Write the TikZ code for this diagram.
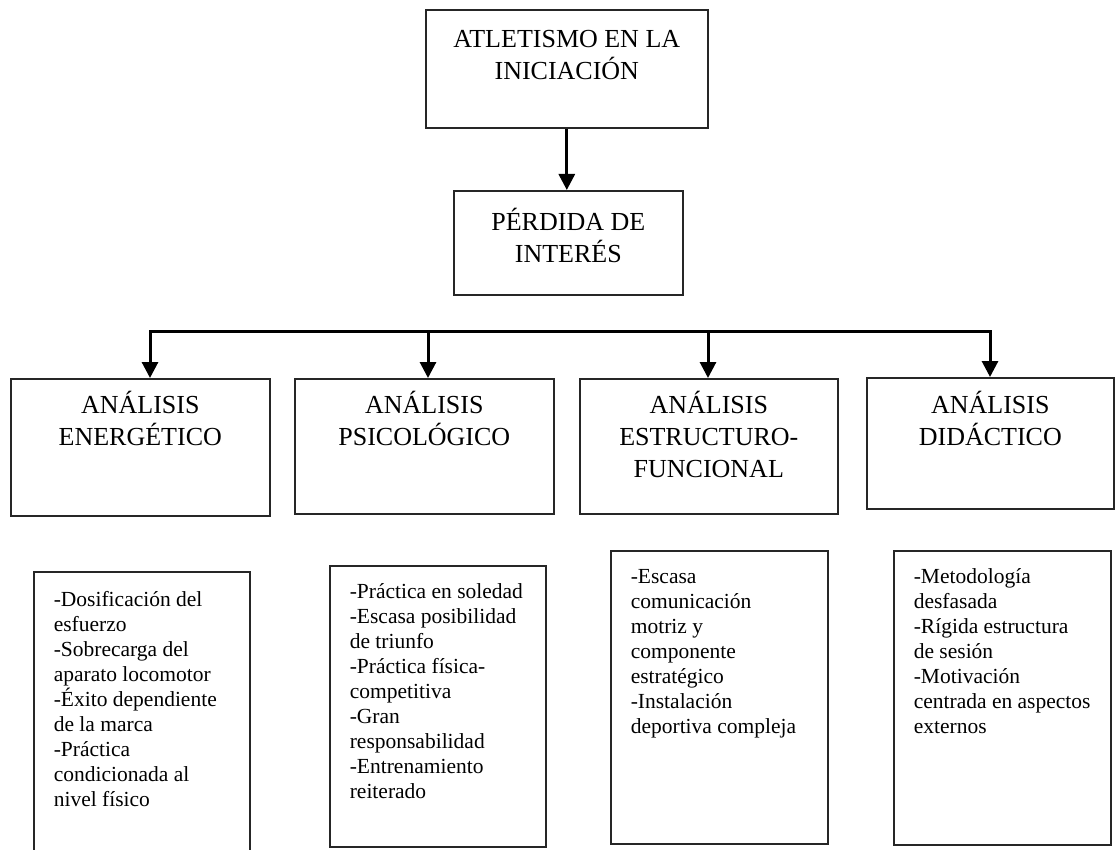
\documentclass[tikz,border=0pt]{standalone}
\usepackage{fontspec}
\setmainfont{Liberation Serif}
\usetikzlibrary{arrows.meta}
\newcommand\headtxt[4]{\parbox[t][#2pt][t]{#1pt}{\centering\fontsize{26}{32}\selectfont\rule{0pt}{#3pt}\ignorespaces#4\par}}
\newcommand\bodytxt[4]{\parbox[t][#2pt][t]{#1pt}{\raggedright\leftskip=20pt\fontsize{21.5}{25}\selectfont\rule{0pt}{#3pt}\ignorespaces#4\par}}
\begin{document}
\begin{tikzpicture}[x=1pt,y=-1pt,
  bx/.style={draw=black!85, line width=1.6pt, inner sep=0pt, anchor=north west, fill=white},
  arr/.style={line width=3pt, -{Triangle[length=16pt,width=16pt]}},
  bar/.style={line width=3pt, line cap=rect}]
\useasboundingbox (0,0) rectangle (1115,850);
\fill[white] (0,0) rectangle (1115,850);

\node[bx] (top) at (425,9) {\headtxt{282}{118}{38}{ATLETISMO EN LA\\INICIACIÓN}};
\node[bx] (perd) at (453,190) {\headtxt{229}{104}{40}{PÉRDIDA DE\\INTERÉS}};

\node[bx] (e1) at (10,378) {\headtxt{259}{137}{35}{ANÁLISIS\\ENERGÉTICO}};
\node[bx] (e2) at (294,378) {\headtxt{259}{135}{35}{ANÁLISIS\\PSICOLÓGICO}};
\node[bx] (e3) at (579,378) {\headtxt{258}{135}{35}{ANÁLISIS\\ESTRUCTURO-\\FUNCIONAL}};
\node[bx] (e4) at (866,377) {\headtxt{247}{131}{36}{ANÁLISIS\\DIDÁCTICO}};

\node[bx] (d1) at (33,571) {\bodytxt{216}{290}{35}{-Dosificación del\\esfuerzo\\-Sobrecarga del\\aparato locomotor\\-Éxito dependiente\\de la marca\\-Práctica\\condicionada al\\nivel físico}};
\node[bx] (d2) at (329,565) {\bodytxt{216}{281}{33}{-Práctica en soledad\\-Escasa posibilidad\\de triunfo\\-Práctica física-\\competitiva\\-Gran\\responsabilidad\\-Entrenamiento\\reiterado}};
\node[bx] (d3) at (610,550) {\bodytxt{217}{293}{33}{-Escasa\\comunicación\\motriz y\\componente\\estratégico\\-Instalación\\deportiva compleja}};
\node[bx] (d4) at (893,550) {\bodytxt{217}{294}{33}{-Metodología\\desfasada\\-Rígida estructura\\de sesión\\-Motivación\\centrada en aspectos\\externos}};

\draw[arr] (top.south) -- (top.south |- perd.north);

\coordinate (b1) at (150,331);
\coordinate (b2) at (428,331);
\coordinate (b3) at (708,331);
\coordinate (b4) at (990,331);
\draw[bar] (b1) -- (b4);
\draw[arr] (b1) -- (b1 |- e1.north);
\draw[arr] (b2) -- (b2 |- e2.north);
\draw[arr] (b3) -- (b3 |- e3.north);
\draw[arr] (b4) -- (b4 |- e4.north);
\end{tikzpicture}
\end{document}
